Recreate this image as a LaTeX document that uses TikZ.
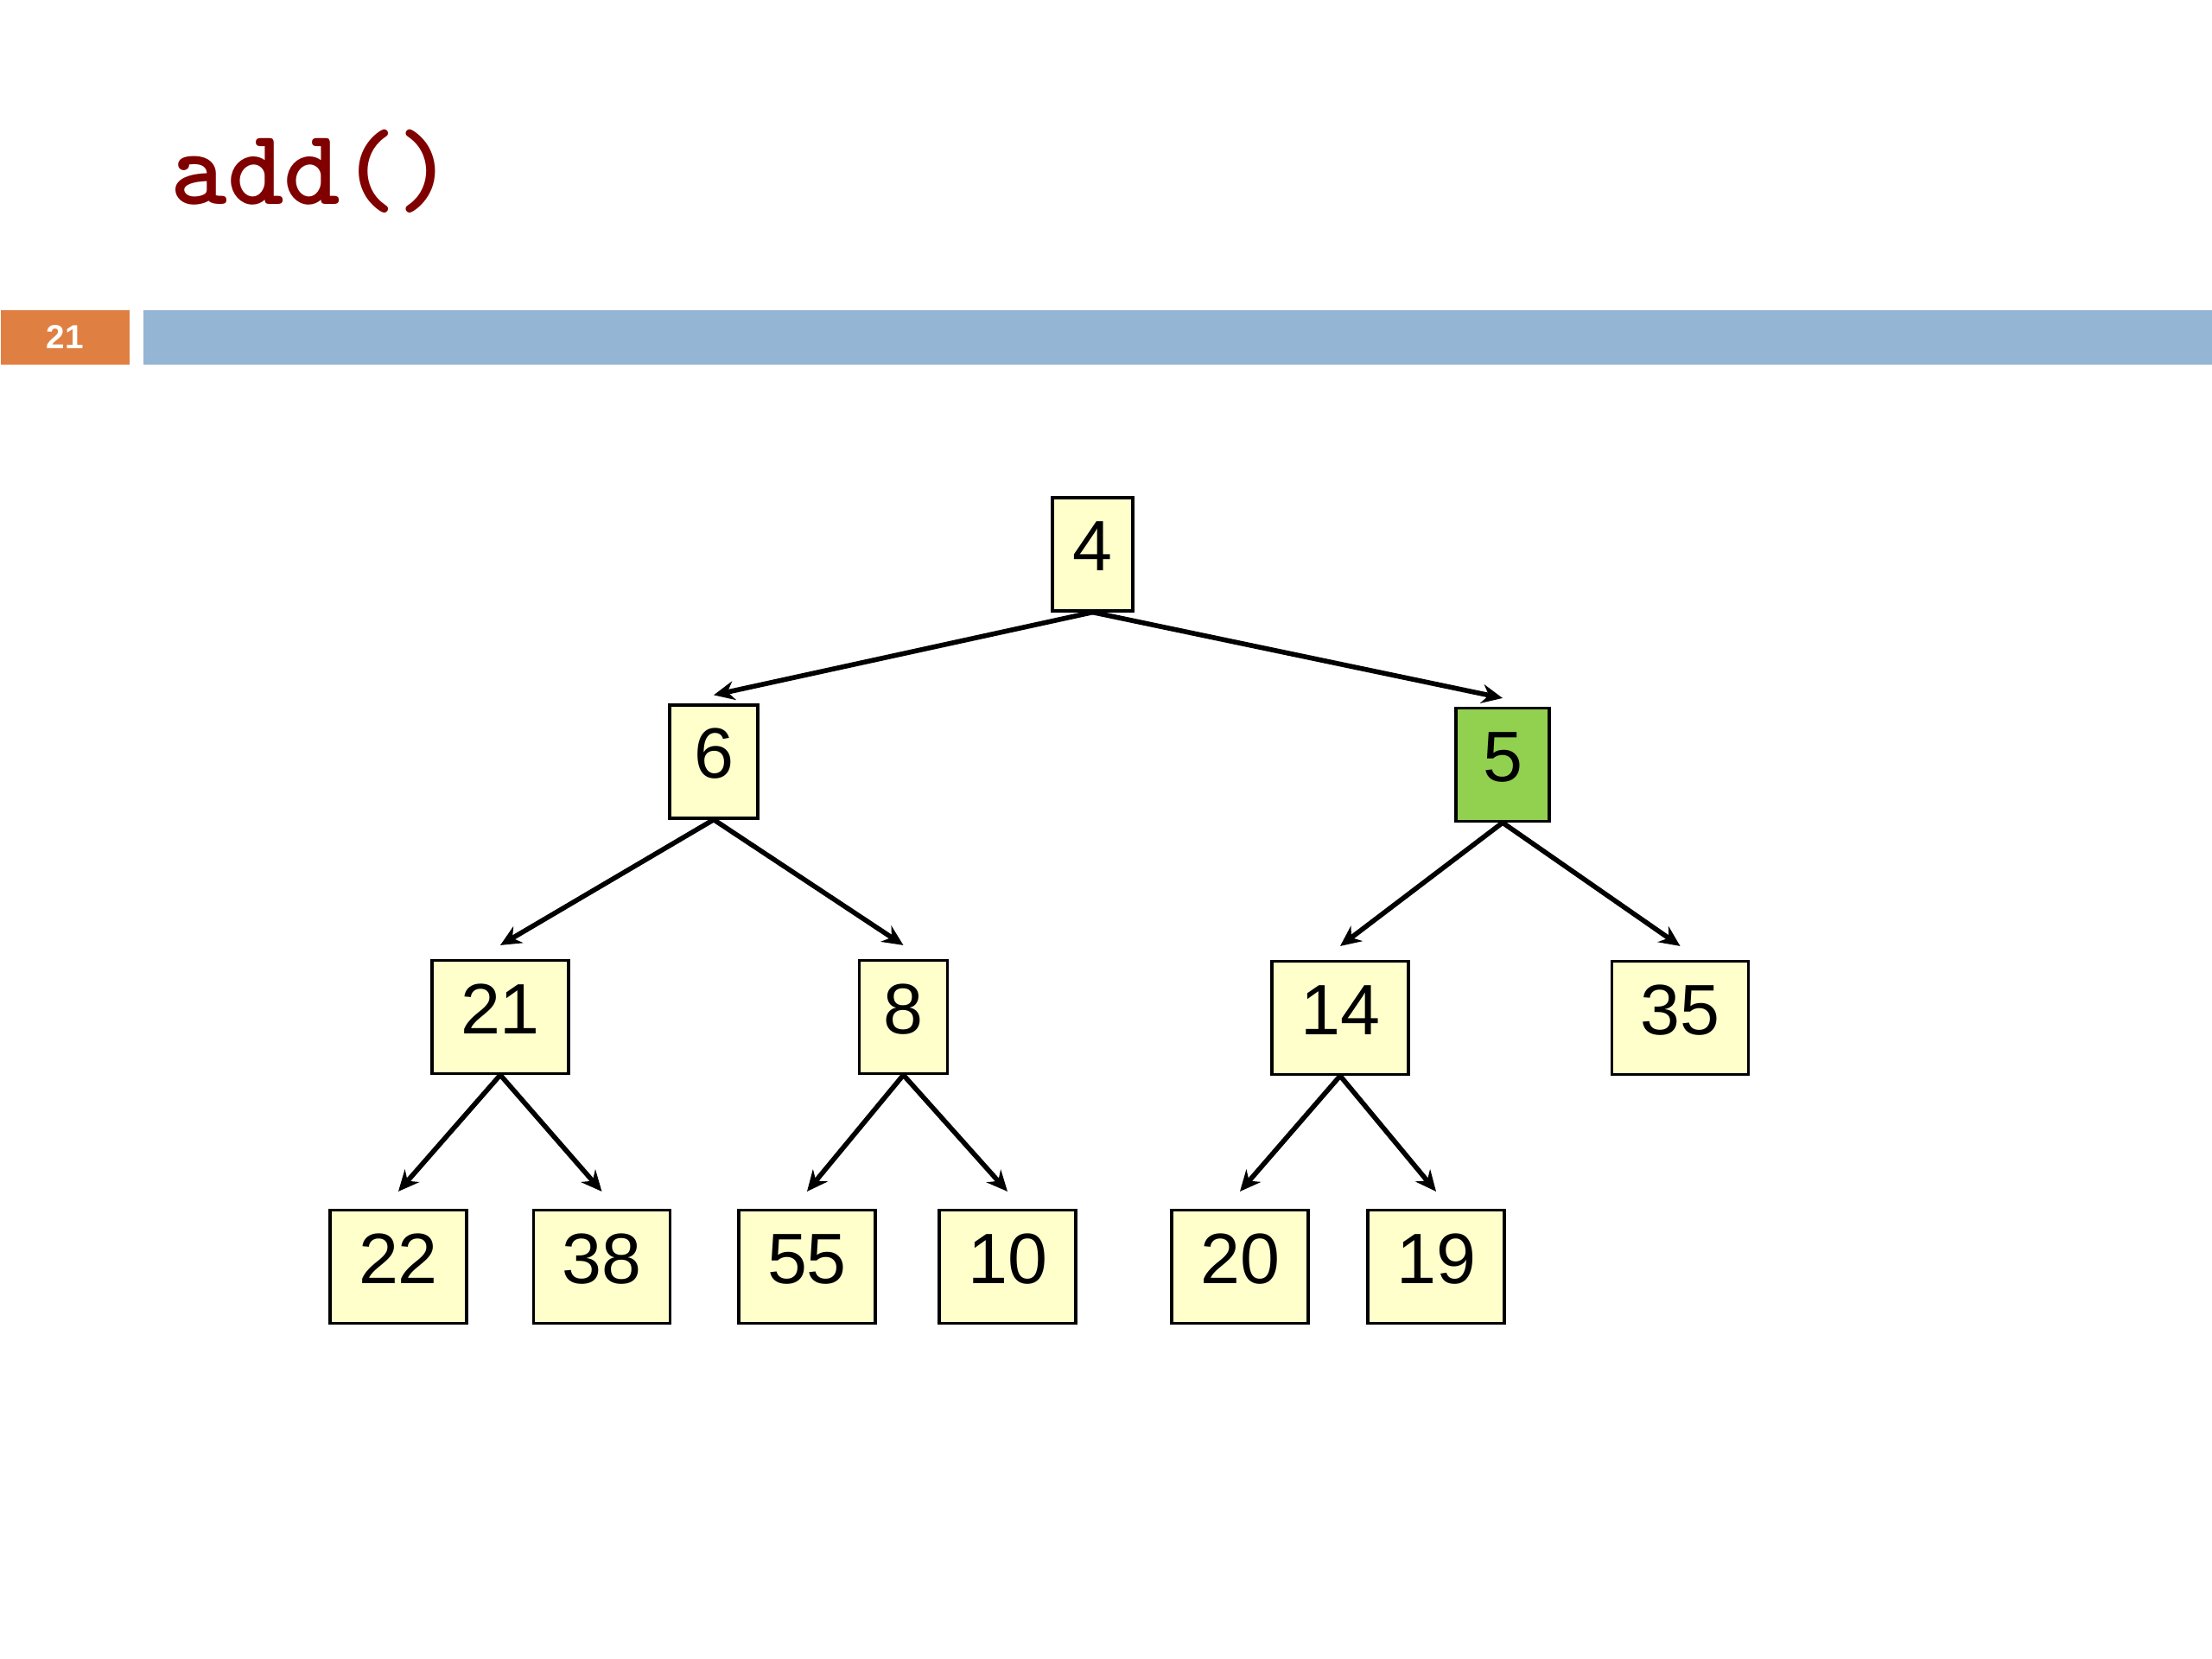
\documentclass[tikz,border=0pt]{standalone}
\usepackage{fontspec}
\setmainfont{Liberation Sans}
\usetikzlibrary{arrows.meta}
\definecolor{titlered}{RGB}{128,0,0}
\definecolor{slideorange}{RGB}{224,127,66}
\definecolor{barblue}{RGB}{148,181,212}
\definecolor{boxyellow}{RGB}{255,255,204}
\definecolor{boxgreen}{RGB}{146,208,80}
\tikzset{
  heapbox/.style={draw=black, line width=0.9pt, fill=boxyellow, minimum height=1.31cm,
    inner sep=0pt, text height=0.6cm, text depth=0.22cm,
    font=\fontsize{23.5pt}{23.5pt}\selectfont},
  narrow/.style={minimum width=1.02cm},
  wide/.style={minimum width=1.58cm},
  edge/.style={line width=1.6pt, -{Stealth[length=0.24cm,width=0.22cm]}}
}
\begin{document}
\begin{tikzpicture}
\useasboundingbox (0,0) rectangle (25.6,-19.2);
\fill[white] (0,0) rectangle (25.6,-19.2);
% title
\node[anchor=base west, inner sep=0pt, text=titlered,
  font=\ttfamily\bfseries\fontsize{35.5pt}{35.5pt}\selectfont] (title) at (1.97,-2.37) {add()};
% header bars
\node[fill=slideorange, minimum width=1.49cm, minimum height=0.63cm, inner sep=0pt,
  anchor=north west, text=white, font=\bfseries\fontsize{11pt}{11pt}\selectfont] (num) at (0,-3.58) {21};
\node[fill=barblue, minimum width=23.95cm, minimum height=0.63cm, inner sep=0pt,
  anchor=north west] (bar) at (1.65,-3.58) {};
% nodes
\node[heapbox, minimum width=0.93cm] (n4) at (12.645,-6.415) {4};
\node[heapbox, narrow] (n6) at (8.26,-8.815) {6};
\node[heapbox, narrow, fill=boxgreen, minimum width=1.08cm] (n5) at (17.39,-8.85) {5};
\node[heapbox, wide] (n21) at (5.79,-11.77) {21};
\node[heapbox, narrow] (n8) at (10.455,-11.77) {8};
\node[heapbox, wide] (n14) at (15.51,-11.78) {14};
\node[heapbox, wide] (n35) at (19.445,-11.78) {35};
\node[heapbox, wide] (n22) at (4.61,-14.66) {22};
\node[heapbox, wide] (n38) at (6.965,-14.66) {38};
\node[heapbox, wide] (n55) at (9.34,-14.66) {55};
\node[heapbox, wide] (n10) at (11.66,-14.66) {10};
\node[heapbox, wide] (n20) at (14.35,-14.66) {20};
\node[heapbox, wide] (n19) at (16.62,-14.66) {19};
% edges
\draw[edge] (n4.south) -- ([yshift=0.1cm]n6.north);
\draw[edge] (n4.south) -- ([yshift=0.1cm]n5.north);
\draw[edge] (n6.south) -- ([yshift=0.16cm]n21.north);
\draw[edge] (n6.south) -- ([yshift=0.16cm]n8.north);
\draw[edge] (n5.south) -- ([yshift=0.16cm]n14.north);
\draw[edge] (n5.south) -- ([yshift=0.16cm]n35.north);
\draw[edge] (n21.south) -- ([yshift=0.2cm]n22.north);
\draw[edge] (n21.south) -- ([yshift=0.2cm]n38.north);
\draw[edge] (n8.south) -- ([yshift=0.2cm]n55.north);
\draw[edge] (n8.south) -- ([yshift=0.2cm]n10.north);
\draw[edge] (n14.south) -- ([yshift=0.2cm]n20.north);
\draw[edge] (n14.south) -- ([yshift=0.2cm]n19.north);
\end{tikzpicture}
\end{document}
